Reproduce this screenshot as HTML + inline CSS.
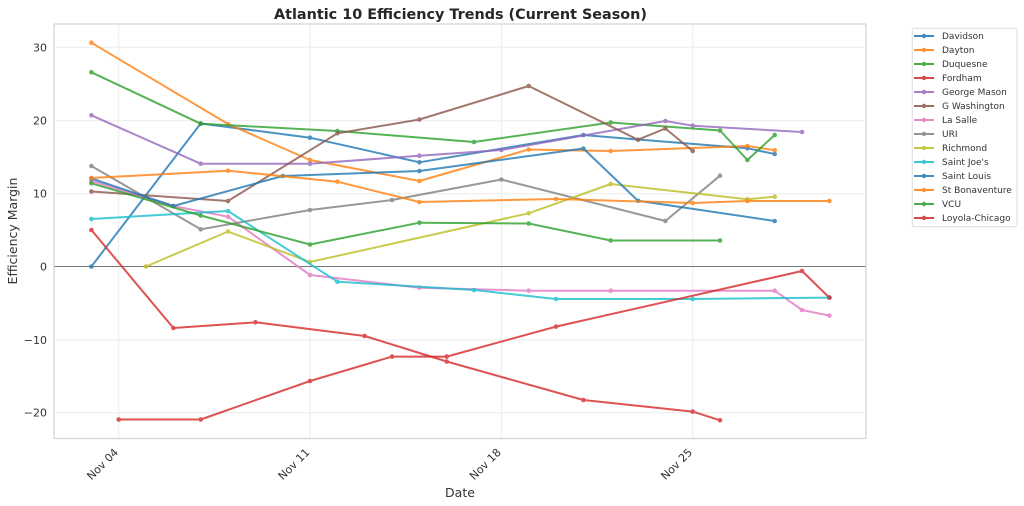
<!DOCTYPE html>
<html>
<head>
<meta charset="utf-8">
<style>
  html, body { margin: 0; padding: 0; background: #ffffff; }
  svg { display: block; font-family: "DejaVu Sans", "Liberation Sans", sans-serif; }
</style>
</head>
<body>
<svg width="1024" height="506" viewBox="0 0 1024 506" xmlns="http://www.w3.org/2000/svg">
  <rect x="0" y="0" width="1024" height="506" fill="#ffffff"/>

  <!-- Title -->
  <text x="460.5" y="19" text-anchor="middle" font-size="14" font-weight="bold" fill="#262626" textLength="373" lengthAdjust="spacingAndGlyphs">Atlantic 10 Efficiency Trends (Current Season)</text>

  <!-- Grid -->
  <g stroke="#ebebeb" stroke-width="1">
    <line x1="54" y1="47.3" x2="866" y2="47.3"/>
    <line x1="54" y1="120.7" x2="866" y2="120.7"/>
    <line x1="54" y1="193.7" x2="866" y2="193.7"/>
    <line x1="54" y1="340" x2="866" y2="340"/>
    <line x1="54" y1="412.7" x2="866" y2="412.7"/>
    <line x1="118.7" y1="24" x2="118.7" y2="438.5"/>
    <line x1="310" y1="24" x2="310" y2="438.5"/>
    <line x1="501.4" y1="24" x2="501.4" y2="438.5"/>
    <line x1="692.7" y1="24" x2="692.7" y2="438.5"/>
  </g>

  <!-- Zero line -->
  <line x1="54" y1="266.5" x2="866" y2="266.5" stroke="#777777" stroke-width="1"/>

  <!-- Frame -->
  <rect x="54" y="24" width="812" height="414.5" fill="none" stroke="#d6d6d6" stroke-width="1.3"/>

  <!-- Y tick labels -->
  <g font-size="11" fill="#333333" text-anchor="end">
    <text x="47" y="51.3">30</text>
    <text x="47" y="124.7">20</text>
    <text x="47" y="197.7">10</text>
    <text x="47" y="270.5">0</text>
    <text x="47" y="344">−10</text>
    <text x="47" y="416.7">−20</text>
  </g>

  <!-- X tick labels -->
  <g font-size="11" fill="#333333" text-anchor="end">
    <text transform="translate(119,453) rotate(-45)">Nov 04</text>
    <text transform="translate(310.3,453) rotate(-45)">Nov 11</text>
    <text transform="translate(501.7,453) rotate(-45)">Nov 18</text>
    <text transform="translate(693,453) rotate(-45)">Nov 25</text>
  </g>

  <!-- Axis labels -->
  <text x="460" y="497" text-anchor="middle" font-size="12.5" fill="#333333">Date</text>
  <text transform="translate(17,231) rotate(-90)" text-anchor="middle" font-size="12.5" fill="#333333">Efficiency Margin</text>

  <!-- Series -->
  <g fill="none" stroke-width="2" stroke-linejoin="round" stroke-linecap="round">
    <!-- Davidson -->
    <g opacity="0.8">
      <polyline stroke="#1f77b4" points="91.4,266.5 200.7,123.5 310,137.7 419.4,162.3 583.4,135 638,139.5 747.4,148.3 774.7,154"/>
      <g fill="#1f77b4" stroke="none">
        <circle cx="91.4" cy="266.5" r="2.3"/><circle cx="200.7" cy="123.5" r="2.3"/><circle cx="310" cy="137.7" r="2.3"/><circle cx="419.4" cy="162.3" r="2.3"/><circle cx="583.4" cy="135" r="2.3"/><circle cx="747.4" cy="148.3" r="2.3"/><circle cx="774.7" cy="154" r="2.3"/>
      </g>
    </g>
    <!-- Dayton -->
    <g opacity="0.8">
      <polyline stroke="#ff7f0e" points="91.4,42.7 228,124 310,160 419.4,181 528.7,149.5 610.7,151 747.4,146 774.7,150.3"/>
      <g fill="#ff7f0e" stroke="none">
        <circle cx="91.4" cy="42.7" r="2.3"/><circle cx="228" cy="124" r="2.3"/><circle cx="310" cy="160" r="2.3"/><circle cx="419.4" cy="181" r="2.3"/><circle cx="528.7" cy="149.5" r="2.3"/><circle cx="610.7" cy="151" r="2.3"/><circle cx="747.4" cy="146" r="2.3"/><circle cx="774.7" cy="150.3" r="2.3"/>
      </g>
    </g>
    <!-- Duquesne -->
    <g opacity="0.8">
      <polyline stroke="#2ca02c" points="91.4,72.3 200.7,123.7 337.4,131 474,142 610.7,122.5 720,130.5 747.4,160 774.7,135"/>
      <g fill="#2ca02c" stroke="none">
        <circle cx="91.4" cy="72.3" r="2.3"/><circle cx="200.7" cy="123.7" r="2.3"/><circle cx="337.4" cy="131" r="2.3"/><circle cx="474" cy="142" r="2.3"/><circle cx="610.7" cy="122.5" r="2.3"/><circle cx="720" cy="130.5" r="2.3"/><circle cx="747.4" cy="160" r="2.3"/><circle cx="774.7" cy="135" r="2.3"/>
      </g>
    </g>
    <!-- Fordham -->
    <g opacity="0.8">
      <polyline stroke="#d62728" points="91.4,230 173.4,328 255.4,322.3 364.7,336 446.7,361.5 583.4,400 692.7,411.6 720,420.3"/>
      <g fill="#d62728" stroke="none">
        <circle cx="91.4" cy="230" r="2.3"/><circle cx="173.4" cy="328" r="2.3"/><circle cx="255.4" cy="322.3" r="2.3"/><circle cx="364.7" cy="336" r="2.3"/><circle cx="446.7" cy="361.5" r="2.3"/><circle cx="583.4" cy="400" r="2.3"/><circle cx="692.7" cy="411.6" r="2.3"/><circle cx="720" cy="420.3" r="2.3"/>
      </g>
    </g>
    <!-- George Mason -->
    <g opacity="0.8">
      <polyline stroke="#9467bd" points="91.4,115.3 200.7,163.7 310,163.7 419.4,155.7 501.4,150 665.4,121 692.7,125.7 802,132"/>
      <g fill="#9467bd" stroke="none">
        <circle cx="91.4" cy="115.3" r="2.3"/><circle cx="200.7" cy="163.7" r="2.3"/><circle cx="310" cy="163.7" r="2.3"/><circle cx="419.4" cy="155.7" r="2.3"/><circle cx="501.4" cy="150" r="2.3"/><circle cx="665.4" cy="121" r="2.3"/><circle cx="692.7" cy="125.7" r="2.3"/><circle cx="802" cy="132" r="2.3"/>
      </g>
    </g>
    <!-- G Washington -->
    <g opacity="0.8">
      <polyline stroke="#8c564b" points="91.4,191.5 228,201 337.4,133.3 419.4,119.5 528.7,86 638,139.7 665.4,128.5 692.7,151"/>
      <g fill="#8c564b" stroke="none">
        <circle cx="91.4" cy="191.5" r="2.3"/><circle cx="228" cy="201" r="2.3"/><circle cx="337.4" cy="133.3" r="2.3"/><circle cx="419.4" cy="119.5" r="2.3"/><circle cx="528.7" cy="86" r="2.3"/><circle cx="638" cy="139.7" r="2.3"/><circle cx="665.4" cy="128.5" r="2.3"/><circle cx="692.7" cy="151" r="2.3"/>
      </g>
    </g>
    <!-- La Salle -->
    <g opacity="0.8">
      <polyline stroke="#e377c2" points="91.4,181 173.4,206 228,216.7 310,275 419.4,287.7 528.7,290.7 610.7,290.7 774.7,290.7 802,310 829.4,315.6"/>
      <g fill="#e377c2" stroke="none">
        <circle cx="91.4" cy="181" r="2.3"/><circle cx="173.4" cy="206" r="2.3"/><circle cx="228" cy="216.7" r="2.3"/><circle cx="310" cy="275" r="2.3"/><circle cx="419.4" cy="287.7" r="2.3"/><circle cx="528.7" cy="290.7" r="2.3"/><circle cx="610.7" cy="290.7" r="2.3"/><circle cx="774.7" cy="290.7" r="2.3"/><circle cx="802" cy="310" r="2.3"/><circle cx="829.4" cy="315.6" r="2.3"/>
      </g>
    </g>
    <!-- URI -->
    <g opacity="0.8">
      <polyline stroke="#7f7f7f" points="91.4,166 200.7,229.3 310,210 392,200 501.4,179.5 665.4,221 720,175.7"/>
      <g fill="#7f7f7f" stroke="none">
        <circle cx="91.4" cy="166" r="2.3"/><circle cx="200.7" cy="229.3" r="2.3"/><circle cx="310" cy="210" r="2.3"/><circle cx="392" cy="200" r="2.3"/><circle cx="501.4" cy="179.5" r="2.3"/><circle cx="665.4" cy="221" r="2.3"/><circle cx="720" cy="175.7" r="2.3"/>
      </g>
    </g>
    <!-- Richmond -->
    <g opacity="0.8">
      <polyline stroke="#bcbd22" points="146,266.5 228,231.5 310,262 528.7,213.3 610.7,184 747.4,199.3 774.7,196.7"/>
      <g fill="#bcbd22" stroke="none">
        <circle cx="146" cy="266.5" r="2.3"/><circle cx="228" cy="231.5" r="2.3"/><circle cx="310" cy="262" r="2.3"/><circle cx="528.7" cy="213.3" r="2.3"/><circle cx="610.7" cy="184" r="2.3"/><circle cx="747.4" cy="199.3" r="2.3"/><circle cx="774.7" cy="196.7" r="2.3"/>
      </g>
    </g>
    <!-- Saint Joe's -->
    <g opacity="0.8">
      <polyline stroke="#17becf" points="91.4,219 228,211 337.4,281.7 474,290 556,299 692.7,299 829.4,297.6"/>
      <g fill="#17becf" stroke="none">
        <circle cx="91.4" cy="219" r="2.3"/><circle cx="228" cy="211" r="2.3"/><circle cx="337.4" cy="281.7" r="2.3"/><circle cx="474" cy="290" r="2.3"/><circle cx="556" cy="299" r="2.3"/><circle cx="692.7" cy="299" r="2.3"/><circle cx="829.4" cy="297.6" r="2.3"/>
      </g>
    </g>
    <!-- Saint Louis -->
    <g opacity="0.8">
      <polyline stroke="#1f77b4" points="91.4,178.5 173.4,206 282.7,176 419.4,171 583.4,148.5 638,200.8 774.7,221"/>
      <g fill="#1f77b4" stroke="none">
        <circle cx="91.4" cy="178.5" r="2.3"/><circle cx="173.4" cy="206" r="2.3"/><circle cx="282.7" cy="176" r="2.3"/><circle cx="419.4" cy="171" r="2.3"/><circle cx="583.4" cy="148.5" r="2.3"/><circle cx="638" cy="200.8" r="2.3"/><circle cx="774.7" cy="221" r="2.3"/>
      </g>
    </g>
    <!-- St Bonaventure -->
    <g opacity="0.8">
      <polyline stroke="#ff7f0e" points="91.4,178 228,170.7 337.4,181.7 419.4,202 556,199 692.7,203 747.4,201 829.4,201"/>
      <g fill="#ff7f0e" stroke="none">
        <circle cx="91.4" cy="178" r="2.3"/><circle cx="228" cy="170.7" r="2.3"/><circle cx="337.4" cy="181.7" r="2.3"/><circle cx="419.4" cy="202" r="2.3"/><circle cx="556" cy="199" r="2.3"/><circle cx="692.7" cy="203" r="2.3"/><circle cx="747.4" cy="201" r="2.3"/><circle cx="829.4" cy="201" r="2.3"/>
      </g>
    </g>
    <!-- VCU -->
    <g opacity="0.8">
      <polyline stroke="#2ca02c" points="91.4,183.3 200.7,215.5 310,244.5 419.4,222.7 528.7,223.5 610.7,240.5 720,240.5"/>
      <g fill="#2ca02c" stroke="none">
        <circle cx="91.4" cy="183.3" r="2.3"/><circle cx="200.7" cy="215.5" r="2.3"/><circle cx="310" cy="244.5" r="2.3"/><circle cx="419.4" cy="222.7" r="2.3"/><circle cx="528.7" cy="223.5" r="2.3"/><circle cx="610.7" cy="240.5" r="2.3"/><circle cx="720" cy="240.5" r="2.3"/>
      </g>
    </g>
    <!-- Loyola-Chicago -->
    <g opacity="0.8">
      <polyline stroke="#d62728" points="118.7,419.5 200.7,419.5 310,381 392,356.6 446.7,356.6 556,326.6 802,271 829.4,297.6"/>
      <g fill="#d62728" stroke="none">
        <circle cx="118.7" cy="419.5" r="2.3"/><circle cx="200.7" cy="419.5" r="2.3"/><circle cx="310" cy="381" r="2.3"/><circle cx="392" cy="356.6" r="2.3"/><circle cx="446.7" cy="356.6" r="2.3"/><circle cx="556" cy="326.6" r="2.3"/><circle cx="802" cy="271" r="2.3"/><circle cx="829.4" cy="297.6" r="2.3"/>
      </g>
    </g>
  </g>

  <!-- Legend -->
  <rect x="912.3" y="28.3" width="104.7" height="198.4" rx="2" ry="2" fill="#ffffff" stroke="#dddddd" stroke-width="1"/>
  <g stroke-width="2" opacity="0.85">
    <line x1="914" y1="36" x2="934" y2="36" stroke="#1f77b4"/><circle cx="924" cy="36" r="2.2" fill="#1f77b4"/>
    <line x1="914" y1="50" x2="934" y2="50" stroke="#ff7f0e"/><circle cx="924" cy="50" r="2.2" fill="#ff7f0e"/>
    <line x1="914" y1="64" x2="934" y2="64" stroke="#2ca02c"/><circle cx="924" cy="64" r="2.2" fill="#2ca02c"/>
    <line x1="914" y1="78" x2="934" y2="78" stroke="#d62728"/><circle cx="924" cy="78" r="2.2" fill="#d62728"/>
    <line x1="914" y1="92" x2="934" y2="92" stroke="#9467bd"/><circle cx="924" cy="92" r="2.2" fill="#9467bd"/>
    <line x1="914" y1="106" x2="934" y2="106" stroke="#8c564b"/><circle cx="924" cy="106" r="2.2" fill="#8c564b"/>
    <line x1="914" y1="120" x2="934" y2="120" stroke="#e377c2"/><circle cx="924" cy="120" r="2.2" fill="#e377c2"/>
    <line x1="914" y1="134" x2="934" y2="134" stroke="#7f7f7f"/><circle cx="924" cy="134" r="2.2" fill="#7f7f7f"/>
    <line x1="914" y1="148" x2="934" y2="148" stroke="#bcbd22"/><circle cx="924" cy="148" r="2.2" fill="#bcbd22"/>
    <line x1="914" y1="162" x2="934" y2="162" stroke="#17becf"/><circle cx="924" cy="162" r="2.2" fill="#17becf"/>
    <line x1="914" y1="176" x2="934" y2="176" stroke="#1f77b4"/><circle cx="924" cy="176" r="2.2" fill="#1f77b4"/>
    <line x1="914" y1="190" x2="934" y2="190" stroke="#ff7f0e"/><circle cx="924" cy="190" r="2.2" fill="#ff7f0e"/>
    <line x1="914" y1="204" x2="934" y2="204" stroke="#2ca02c"/><circle cx="924" cy="204" r="2.2" fill="#2ca02c"/>
    <line x1="914" y1="218" x2="934" y2="218" stroke="#d62728"/><circle cx="924" cy="218" r="2.2" fill="#d62728"/>
  </g>
  <g font-size="9" fill="#333333">
    <text x="942" y="39.2">Davidson</text>
    <text x="942" y="53.2">Dayton</text>
    <text x="942" y="67.2">Duquesne</text>
    <text x="942" y="81.2">Fordham</text>
    <text x="942" y="95.2">George Mason</text>
    <text x="942" y="109.2">G Washington</text>
    <text x="942" y="123.2">La Salle</text>
    <text x="942" y="137.2">URI</text>
    <text x="942" y="151.2">Richmond</text>
    <text x="942" y="165.2">Saint Joe's</text>
    <text x="942" y="179.2">Saint Louis</text>
    <text x="942" y="193.2">St Bonaventure</text>
    <text x="942" y="207.2">VCU</text>
    <text x="942" y="221.2">Loyola-Chicago</text>
  </g>
</svg>
</body>
</html>
